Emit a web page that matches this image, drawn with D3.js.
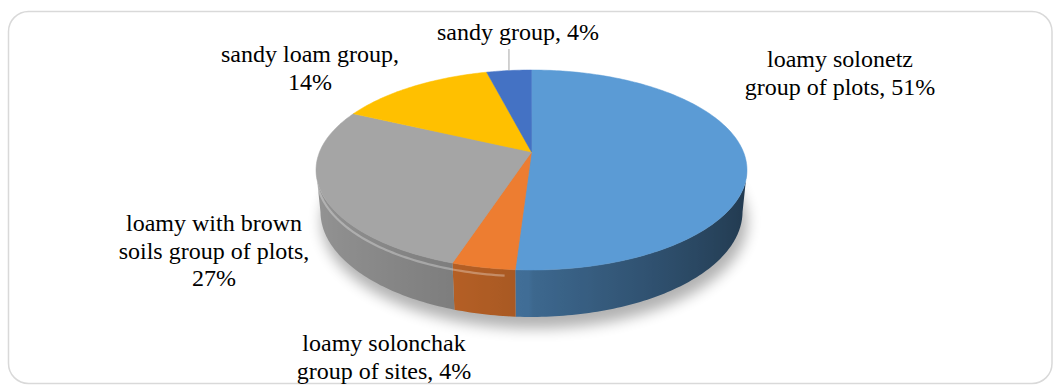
<!DOCTYPE html>
<html>
<head>
<meta charset="utf-8">
<script src="https://cdn.jsdelivr.net/npm/d3@7"></script>
<style>
  html, body { margin: 0; padding: 0; background: #ffffff; }
  svg { display: block; }
</style>
</head>
<body>
<svg id="chart" width="1057" height="385"></svg>
<script>
// ---- data ----
const categories = [
  "loamy solonetz group of plots",
  "loamy solonchak group of sites",
  "loamy with brown soils group of plots",
  "sandy loam group",
  "sandy group"
];
const values = [51, 4, 27, 14, 4];
const percentLabels = ["51%", "4%", "27%", "14%", "4%"];
const colors = ["#5b9bd5", "#ed7d31", "#a5a5a5", "#ffc000", "#4472c4"];

// label text lines (split as in the chart)
const labelLines = [
  ["loamy solonetz", "group of plots, 51%"],
  ["loamy solonchak", "group of sites, 4%"],
  ["loamy with brown", "soils group of plots,", "27%"],
  ["sandy loam group,", "14%"],
  ["sandy group, 4%"]
];
// label layout (centre x, first baseline y)
const labelPos = [
  [840, 67], [384, 351], [214, 231], [310, 62], [518, 40]
];

// ---- layout ----
const svg = d3.select("#chart");
const FONT = "'Liberation Serif', 'Times New Roman', Times, serif";

svg.append("rect")
  .attr("x", 8.5).attr("y", 11.5)
  .attr("width", 1043.5).attr("height", 372)
  .attr("rx", 20).attr("ry", 20)
  .attr("fill", "#fff").attr("stroke", "#d9d9d9").attr("stroke-width", 1.5);

// 3D projection of a unit disc
const cam = { cx: 531.5, cy: 152, f: 1047.8, D: 4.943, s: 0.4565, c: 0.8897 };
const thick = 0.222;
function project(X, Y, Z) {
  const yc = Y * cam.c + Z * cam.s;
  const zc = -Y * cam.s + Z * cam.c + cam.D;
  return [cam.cx + cam.f * X / zc, cam.cy - cam.f * yc / zc, zc];
}
function rim(a, Y) { const p = project(Math.sin(a), Y, Math.cos(a)); return [p[0], p[1]]; }

const pie = d3.pie().sort(null).value(d => d).startAngle(0).endAngle(2 * Math.PI);
const arcs = pie(values);
const line = d3.line();
const defs = svg.append("defs");
defs.append("filter").attr("id", "blur").attr("x", "-20%").attr("y", "-30%")
  .attr("width", "140%").attr("height", "160%")
  .append("feGaussianBlur").attr("stdDeviation", 7);

// soft shadow under the pie
const shadowPts = d3.range(0, 361, 2).map(d => {
  const a = d * Math.PI / 180;
  const p = project(Math.sin(a) * 1.01, -thick - 0.02, Math.cos(a) * 1.01);
  return [p[0] + 3, p[1] + 6];
});
svg.append("path").attr("d", line(shadowPts) + "Z")
  .attr("fill", "#000").attr("opacity", 0.3).attr("filter", "url(#blur)");

// visible front wall range (silhouette of the projected disc)
const zSil = -cam.c / cam.D;
const visA0 = Math.acos(zSil);
const visA1 = 2 * Math.PI - Math.acos(zSil);
const xLeft = rim(visA1, 0)[0], xRight = rim(visA0, 0)[0];
const deg = Math.PI / 180;
function light(a) {
  const sn = Math.sin(a);
  return sn > 0 ? 0.67 - 0.31 * sn : 0.70 + 0.2 * (-sn);
}

arcs.forEach((a, i) => {
  const s0 = Math.max(a.startAngle, visA0), s1 = Math.min(a.endAngle, visA1);
  if (s1 <= s0) return;
  const n = Math.max(2, Math.ceil((s1 - s0) / deg));
  const angs = d3.range(n + 1).map(k => s0 + (s1 - s0) * k / n);
  const top = angs.map(t => rim(t, 0));
  const bot = angs.map(t => rim(t, -thick)).reverse();
  const gid = "wall" + i;
  const g = defs.append("linearGradient").attr("id", gid)
    .attr("gradientUnits", "userSpaceOnUse")
    .attr("x1", xLeft).attr("x2", xRight).attr("y1", 0).attr("y2", 0);
  const base = d3.rgb(colors[i]);
  const stops = angs.map(t => {
    const b = light(t);
    return {
      off: (rim(t, 0)[0] - xLeft) / (xRight - xLeft),
      col: d3.rgb(base.r * b, base.g * b, base.b * b).formatHex()
    };
  }).sort((p, q) => p.off - q.off);
  stops.forEach(st => g.append("stop").attr("offset", st.off).attr("stop-color", st.col));
  svg.append("path").attr("d", line(top.concat(bot)) + "Z")
    .attr("fill", "url(#" + gid + ")");
});

// bevel highlight along the grey/orange front rim
const hl = d3.range(186, 262, 1).map(d => rim(d * deg, -0.03));
svg.append("path").attr("d", line(hl)).attr("fill", "none")
  .attr("stroke", "#ffffff").attr("stroke-opacity", 0.3).attr("stroke-width", 2.2);

// top faces
const center = project(0, 0, 0);
svg.append("g").selectAll("path").data(arcs).join("path")
  .attr("d", a => {
    const n = Math.max(2, Math.ceil((a.endAngle - a.startAngle) / deg));
    const pts = [[center[0], center[1]]];
    for (let k = 0; k <= n; k++) {
      pts.push(rim(a.startAngle + (a.endAngle - a.startAngle) * k / n, 0));
    }
    return line(pts) + "Z";
  })
  .attr("fill", (a, i) => colors[i])
  .attr("stroke", (a, i) => colors[i])
  .attr("stroke-width", 0.5);

// leader line for the small "sandy group" slice
const sandy = arcs[4];
const lp = rim((sandy.startAngle + sandy.endAngle) / 2, 0);
svg.append("line")
  .attr("x1", lp[0]).attr("x2", lp[0])
  .attr("y1", 49).attr("y2", lp[1])
  .attr("stroke", "#a6a6a6").attr("stroke-width", 1);

// labels
const lineH = 27.5;
labelLines.forEach((lines, i) => {
  const t = svg.append("text")
    .attr("text-anchor", "middle")
    .attr("font-family", FONT)
    .attr("font-size", 24)
    .attr("fill", "#000");
  lines.forEach((s, j) => {
    t.append("tspan").attr("x", labelPos[i][0])
      .attr("y", labelPos[i][1] + j * lineH).text(s);
  });
});
</script>
</body>
</html>
